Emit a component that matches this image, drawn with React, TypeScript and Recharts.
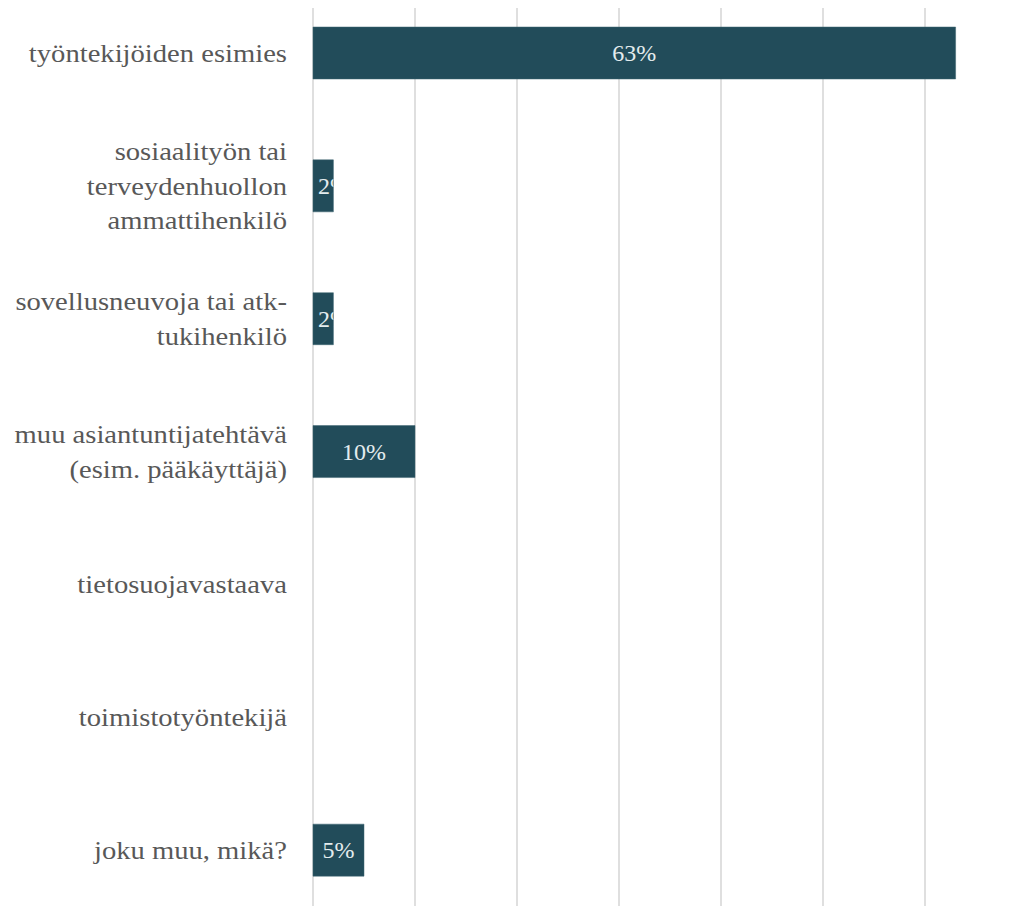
import React from 'react';
import { BarChart, Bar, XAxis, YAxis, CartesianGrid, LabelList } from 'recharts';

// rivit: kategoriat (\n = rivinvaihto) ja osuudet prosentteina
const categories = [
    'työntekijöiden esimies',
    'sosiaalityön tai\nterveydenhuollon\nammattihenkilö',
    'sovellusneuvoja tai atk-\ntukihenkilö',
    'muu asiantuntijatehtävä\n(esim. pääkäyttäjä)',
    'tietosuojavastaava',
    'toimistotyöntekijä',
    'joku muu, mikä?',
];
const shares = [63, 2, 2, 10, 0, 0, 5];
const gridTicks = [0, 10, 20, 30, 40, 50, 60];

const data = categories.map((name, i) => ({ name, value: shares[i] }));

const FONT = "'Liberation Serif', 'DejaVu Serif', serif";

const CategoryTick = (props: any) => {
    const { x, y, payload } = props;
    const lines: string[] = String(payload.value).split('\n');
    const lh = 34.5;
    const startY = -((lines.length - 1) * lh) / 2;
    // alkuperäisessä teksti on hieman leveämpää
    return (
        <g transform={`translate(${x},${y}) scale(1.1,1)`}>
            <text x={0} y={startY} textAnchor="end" fill="#585858" style={{ fontFamily: FONT, fontSize: 26 }} dominantBaseline="central">
                {lines.map((l, i) => (
                    <tspan key={i} x={0} y={startY + i * lh}>{l}</tspan>
                ))}
            </text>
        </g>
    );
};

const BarValue = (props: any) => {
    const { x, y, width, height, value, index } = props;
    if (!value) return null;
    const txt = `${value}%`;
    const estW = txt.length * 12;
    const cy = y + height / 2;
    const st = { fontFamily: FONT, fontSize: 24 };
    if (width > estW + 6) {
        return (
            <text x={x + width / 2} y={cy} textAnchor="middle" dominantBaseline="central" fill="#e4ecee" style={st}>
                {txt}
            </text>
        );
    }
    // kapea palkki: teksti leikkautuu palkin reunaan
    const id = `clip-bar-${index}`;
    return (
        <g>
            <defs>
                <clipPath id={id}>
                    <rect x={x} y={y} width={width} height={height} />
                </clipPath>
            </defs>
            <text x={x + 5} y={cy} textAnchor="start" dominantBaseline="central" fill="#e4ecee" style={st} clipPath={`url(#${id})`}>
                {txt}
            </text>
        </g>
    );
};

export default function App() {
    return (
        <div style={{ width: 1003, height: 898, overflow: 'hidden', background: '#fff' }}>
            <div style={{ marginTop: -21 }}>
                <BarChart
                    width={1019}
                    height={930}
                    data={data}
                    layout="vertical"
                    margin={{ top: 0, right: 0, bottom: 0, left: 0 }}
                    barSize={52}
                >
                    <CartesianGrid horizontal={false} vertical stroke="#d4d4d4" strokeWidth={1.5} />
                    <XAxis type="number" domain={[0, 70]} ticks={gridTicks} hide />
                    <YAxis
                        type="category"
                        dataKey="name"
                        width={305}
                        axisLine={false}
                        tickLine={false}
                        tick={<CategoryTick />}
                        tickMargin={20}
                        interval={0}
                    />
                    <Bar dataKey="value" fill="#224c5a" stroke="#3c6470" strokeWidth={0.5} isAnimationActive={false}>
                        <LabelList dataKey="value" content={<BarValue />} />
                    </Bar>
                </BarChart>
            </div>
        </div>
    );
}
